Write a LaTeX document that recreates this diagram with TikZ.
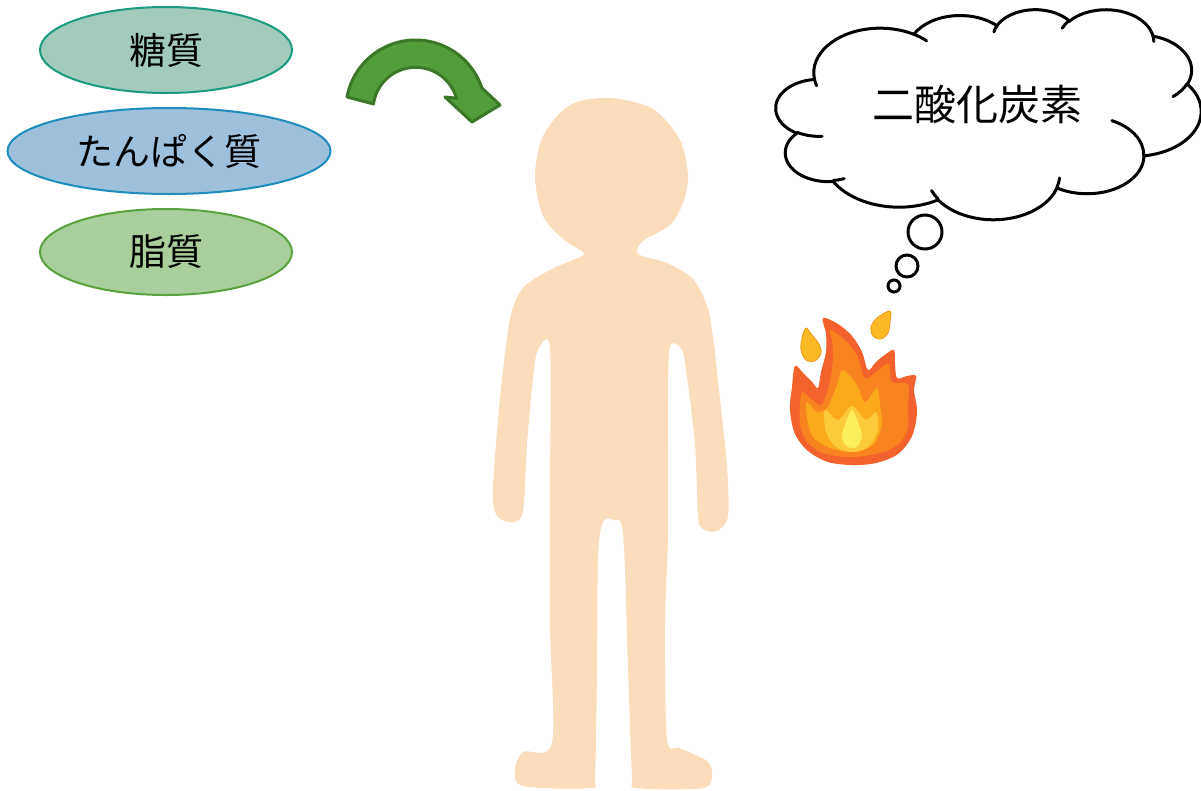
\documentclass[tikz,border=0pt]{standalone}
\usepackage{fontspec}
\newfontfamily\jpfont{Noto Sans CJK JP}
\usetikzlibrary{shapes.geometric,calc}

\definecolor{sugarfill}{HTML}{A1CBBA}
\definecolor{sugarline}{HTML}{1B9A7F}
\definecolor{protfill}{HTML}{9DC1DC}
\definecolor{protline}{HTML}{1E8CBD}
\definecolor{fatfill}{HTML}{AACE9C}
\definecolor{fatline}{HTML}{5AA33C}
\definecolor{arrowfill}{HTML}{519E3B}
\definecolor{arrowline}{HTML}{3A7828}
\definecolor{skin}{HTML}{FCDDBB}
\definecolor{flameA}{HTML}{F3622C}
\definecolor{flameB}{HTML}{F8831F}
\definecolor{flameC}{HTML}{FAA91B}
\definecolor{flameD}{HTML}{FCCB3C}
\definecolor{flameE}{HTML}{FDEE5C}
\definecolor{dropfill}{HTML}{FBB925}
\definecolor{dropline}{HTML}{F39A1F}

% one elliptic arc of the cloud outline; angles are given as visual angles
\newcommand\cldarc[4]{arc[x radius=#1, y radius=#2,
  start angle={pa(#1,#2,#3)},
  end angle={pa(#1,#2,#3+#4)+360*round((pa(#1,#2,#3)+#4-pa(#1,#2,#3+#4))/360)}]}

\begin{document}
\begin{tikzpicture}[x=1pt,y=-1pt,
  declare function={pa(\xr,\yr,\an)=atan2(\xr*sin(\an),\yr*cos(\an));},
  food/.style={ellipse, draw, line width=2pt, inner sep=0pt, minimum height=86pt,
    font=\jpfont\fontsize{37}{40}\selectfont},
  cloudline/.style={draw=black, line width=3pt},
  flame/.style={smooth cycle, tension=0.55},
  drop/.style={fill=dropfill, draw=dropline, line width=0.8pt}]

\useasboundingbox (0,0) rectangle (1201,790);
\fill[white] (0,0) rectangle (1201,790);

% nutrients
\node[food, fill=sugarfill, draw=sugarline, minimum width=252pt] (sugar) at (166,50) {糖質};
\node[food, fill=protfill, draw=protline, minimum width=323pt] (protein) at (169,151) {たんぱく質};
\node[food, fill=fatfill, draw=fatline, minimum width=252pt] (fat) at (166,252) {脂質};

% curved arrow
\coordinate (ac) at (415.6,109.8);
\filldraw[fill=arrowfill, draw=arrowline, line width=3pt, line join=round]
  ($(ac)+(-169.4:69.8)$) arc[start angle=-169.4, end angle=-18.2, radius=69.8]
  -- (500,105) -- (472,122) -- (445,97)
  -- ($(ac)+(-15.9:42.5)$) arc[start angle=-15.9, end angle=-172.1, radius=42.5]
  -- cycle;

% body
\fill[skin] plot[smooth cycle, tension=0.5] coordinates {
 (610,98) (653,109) (680,140) (688,176) (683,203) (670,225) (643,241) (638,254)
 (667,263) (693,279) (707,306) (713,337) (720,399) (727,466) (728,516) (717,531)
 (703,529) (698,516) (695,444) (687,377) (682,350) (670,346) (668,399) (668,533)
 (665,623) (667,739) (680,748) (707,761) (712,775) (703,788) (637,788) (632,775)
 (628,667) (623,533) (613,520) (603,522) (598,556) (597,667) (595,775) (590,788)
 (523,786) (515,770) (523,752) (552,743) (550,623) (550,489) (550,348) (538,350)
 (533,377) (527,444) (523,511) (513,522) (497,516) (493,489) (500,399) (510,319)
 (523,288) (550,270) (580,257) (583,252) (563,239) (543,216) (535,176) (543,136)
 (570,105)};

% fire
\fill[flameA] plot[flame] coordinates {
 (823,318) (838,324) (852,336) (862,352) (868,370) (876,362) (886,354) (894,350)
 (895,363) (897,378) (907,376) (916,376) (914,390) (917,412) (912,436) (898,454)
 (876,463) (852,465) (828,462) (808,451) (795,434) (790,410) (792,387) (795,366)
 (804,374) (813,383) (818,388) (821,372) (826,352) (826,334)};
\fill[flameB] plot[flame] coordinates {
 (830,330) (845,340) (857,355) (865,378) (878,370) (889,364) (892,382) (908,384)
 (908,405) (907,432) (893,448) (870,455) (847,457) (823,453) (807,442) (800,425)
 (800,405) (802,392) (810,398) (820,405) (825,398) (830,382) (833,358) (832,340)};
\fill[flameC] plot[flame] coordinates {
 (843,370) (857,385) (865,402) (877,388) (880,405) (882,425) (873,445) (853,452)
 (830,448) (813,437) (807,418) (807,402) (817,412) (827,408) (833,395) (838,382)};
\fill[flameD] plot[flame] coordinates {
 (825,410) (838,420) (852,406) (866,420) (876,412) (878,430) (868,447) (852,452)
 (836,447) (826,432)};
\fill[flameE] plot[flame] coordinates {
 (852,410) (858,422) (862,435) (858,446) (852,448) (845,445) (842,435) (846,422)};
\filldraw[drop] plot[flame] coordinates {
 (806,328) (812,335) (819,344) (821,353) (815,361) (806,360) (801,350) (802,338)};
\filldraw[drop] plot[flame] coordinates {
 (890,311) (890,322) (888,333) (881,339) (873,336) (871,327) (877,318)};

% thought cloud
\begin{scope}[shift={(776,9)}, xscale=0.98380, yscale=0.48611]
  \filldraw[fill=white, cloudline] (39.00,143.70)
    \cldarc{67.53}{91.90}{-190.4875}{123.7805}
    \cldarc{53.33}{72.67}{-144.1024}{89.9452}
    \cldarc{43.65}{59.45}{-145.8079}{99.7230}
    \cldarc{48.57}{65.95}{-130.9861}{117.2417}
    \cldarc{53.33}{72.73}{-78.7089}{109.0269}
    \cldarc{67.75}{92.20}{-46.2673}{130.2690}
    \cldarc{57.85}{78.67}{0.6250}{114.0333}
    \cldarc{67.52}{92.15}{22.4516}{115.1726}
    \cldarc{77.20}{105.43}{66.2426}{75.7110}
    \cldarc{43.60}{59.18}{-274.9421}{146.7356}
    \cldarc{43.45}{59.45}{-246.8285}{152.5189}
    -- cycle;
  % inner fold lines of the puffs
  \draw[cloudline, line cap=round]
    (46.93,261.77) arc[x radius=43.45, y radius=59.45, start angle=85.55, end angle=120.36]
    (69.28,348.99) arc[x radius=43.60, y radius=59.18, start angle=68.24, end angle=83.31]
    (164.78,390.90) arc[x radius=67.52, y radius=92.15, start angle=146.24, end angle=158.47]
    (288.27,347.51) arc[x radius=67.52, y radius=92.15, start angle=4.74, end angle=16.84]
    (341.29,229.54) arc[x radius=57.85, y radius=78.67, start angle=-64.03, end angle=0.46]
    (417.98,153.54) arc[x radius=53.33, y radius=72.73, start angle=23.21, end angle=49.63]
    (383.24,54.26) arc[x radius=48.57, y radius=65.95, start angle=-10.21, end angle=0.82]
    (290.78,39.52) arc[x radius=48.57, y radius=65.95, start angle=-156.29, end angle=-139.69]
    (221.41,47.20) arc[x radius=43.65, y radius=59.45, start angle=-167.73, end angle=-153.49]
    (140.00,51.92) arc[x radius=67.53, y radius=91.90, start angle=-59.63, end angle=-45.76]
    (41.27,157.89) arc[x radius=67.53, y radius=91.90, start angle=163.19, end angle=172.25];
\end{scope}
\node[font=\jpfont\fontsize{42}{46}\selectfont] (co2) at (977,105) {二酸化炭素};

% thought bubbles
\draw[cloudline] (925,232) circle[radius=17];
\draw[cloudline] (907,266) circle[radius=11];
\draw[cloudline] (894,286) circle[radius=6];

\end{tikzpicture}
\end{document}
